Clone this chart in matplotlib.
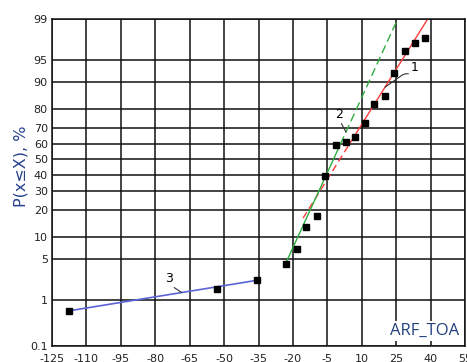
from statistics import NormalDist
import numpy as np
import matplotlib
matplotlib.use("Agg")
import matplotlib.pyplot as plt

plt.rcParams['font.family'] = ['DejaVu Sans']
plt.rcParams['axes.unicode_minus'] = False

# empirical points: ARF_TOA value vs cumulative probability, %
sample_x = [-117.6, -53.2, -35.8, -23.2, -18.4, -14.3, -9.6, -5.9, -1.1,
            3.1, 7.0, 11.4, 15.5, 20.1, 24.2, 29.0, 33.1, 37.6]
sample_p = [0.6, 1.6, 2.24, 4.2, 6.85, 13.2, 17.4, 38.9, 59.5,
            61.5, 64.6, 72.8, 81.9, 85.4, 92.4, 96.4, 97.3, 97.8]

# fitted lines (1 - red, 2 - green, 3 - blue)
fit1_x = [-15.6, 4.6, 38.7]
fit1_p = [16.5, 60.0, 99.0]
fit2_x = [-23.2, 0.7, 25.6]
fit2_p = [4.2, 60.0, 99.0]
fit3_x = [-117.6, -35.8]
fit3_p = [0.6, 2.24]

x_ticks = list(range(-125, 56, 15))
p_ticks = [0.1, 1, 5, 10, 20, 30, 40, 50, 60, 70, 80, 90, 95, 99]
p_labels = ['0.1', '1', '5', '10', '20', '30', '40', '50', '60', '70', '80', '90', '95', '99']

_nd = NormalDist()
_ppf = np.vectorize(_nd.inv_cdf, otypes=[float])
_cdf = np.vectorize(_nd.cdf, otypes=[float])


def prob_fwd(p):
    p = np.clip(np.asarray(p, dtype=float) / 100.0, 1e-9, 1 - 1e-9)
    return _ppf(p)


def prob_inv(z):
    return _cdf(np.asarray(z, dtype=float)) * 100.0


fig = plt.figure(figsize=(4.67, 3.62), dpi=100)
ax = fig.add_axes([0.1113, 0.045, 0.8846, 0.9025])
ax.set_yscale('function', functions=(prob_fwd, prob_inv))
ax.set_xlim(-125, 55)
ax.set_ylim(0.1, 99)

ax.set_xticks(x_ticks)
ax.set_yticks(p_ticks)
ax.set_yticklabels(p_labels)
ax.minorticks_off()
ax.tick_params(length=0, labelsize=8, colors='#222222')
ax.tick_params(axis='x', pad=6)
ax.tick_params(axis='y', pad=3)
ax.grid(True, color='#111111', lw=1.1)
ax.set_axisbelow(True)
for s in ax.spines.values():
    s.set_color('#111111')
    s.set_linewidth(1.1)

red = '#ff3c3c'
green = '#2fae3f'
blue = '#5b63d8'

ax.plot(fit1_x[:2], fit1_p[:2], color=red, lw=1.0, dashes=(5, 3))
ax.plot(fit1_x[1:], fit1_p[1:], color=red, lw=1.0)
ax.plot(fit2_x[:2], fit2_p[:2], color=green, lw=1.0)
ax.plot(fit2_x[1:], fit2_p[1:], color=green, lw=1.0, dashes=(6, 3))
ax.plot(fit3_x, fit3_p, color=blue, lw=1.2)

ax.plot(sample_x, sample_p, 's', color='black', ms=4.3, zorder=5)

# curve numbers with underline leaders
lead = dict(arrowstyle='-', lw=0.8, color='#333333', shrinkA=0, shrinkB=0)
ax.annotate('1', xy=(20.1, 88.4), xytext=(24.5, 9.7), textcoords='offset points',
            ha='right', va='bottom', fontsize=9,
            arrowprops=dict(lead, relpos=(1, 0),
                            connectionstyle='arc,angleA=180,armA=15,angleB=0,armB=0,rad=3'))
ax.annotate('2', xy=(3.1, 67.5), xytext=(-8.0, 8.0), textcoords='offset points',
            ha='left', va='bottom', fontsize=9,
            arrowprops=dict(lead, relpos=(0, 0),
                            connectionstyle='arc,angleA=0,armA=5,angleB=0,armB=0,rad=2'))
ax.annotate('3', xy=(-68.5, 1.36), xytext=(-12.0, 5.6), textcoords='offset points',
            ha='left', va='bottom', fontsize=9,
            arrowprops=dict(lead, relpos=(0, 0),
                            connectionstyle='arc,angleA=0,armA=5,angleB=0,armB=0,rad=2'))

ax.text(0.985, 0.033, 'ARF_TOA', transform=ax.transAxes, ha='right', va='baseline',
        fontsize=12, family='Open Sans', color='#23407f', zorder=6,
        bbox=dict(facecolor='white', edgecolor='none', pad=1.5))

fig.text(0.044, 0.541, 'P(x≤X), %', rotation=90, ha='center', va='center',
         fontsize=11.5, color='#26408b')

fig.savefig('out.png', dpi=100)
